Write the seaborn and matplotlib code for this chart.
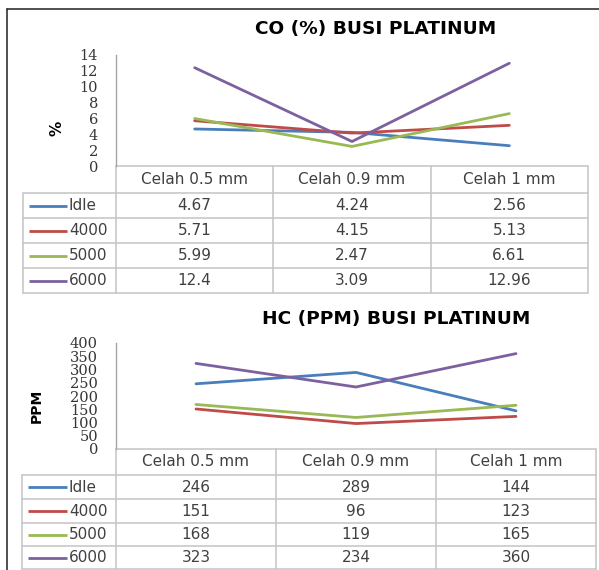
import matplotlib
matplotlib.use("Agg")
import matplotlib.pyplot as plt
import seaborn as sns
import pandas as pd

# ---------------- data ----------------
categories = ["Celah 0.5 mm", "Celah 0.9 mm", "Celah 1 mm"]
series = ["Idle", "4000", "5000", "6000"]
colors = ["#4A7EBB", "#BE4B48", "#98B954", "#7D60A0"]

co_idle = [4.67, 4.24, 2.56]
co_4000 = [5.71, 4.15, 5.13]
co_5000 = [5.99, 2.47, 6.61]
co_6000 = [12.4, 3.09, 12.96]
co_ticks = [0, 2, 4, 6, 8, 10, 12, 14]

hc_idle = [246, 289, 144]
hc_4000 = [151, 96, 123]
hc_5000 = [168, 119, 165]
hc_6000 = [323, 234, 360]
hc_ticks = [0, 50, 100, 150, 200, 250, 300, 350, 400]

co_title = "CO (%) BUSI PLATINUM"
hc_title = "HC (PPM) BUSI PLATINUM"
co_ylabel = "%"
hc_ylabel = "PPM"

# ---------------- style ----------------
sns.set_theme(style="white")
plt.rcParams['font.family'] = ['DejaVu Sans']

W, H = 599, 570
fig = plt.figure(figsize=(W / 100, H / 100), dpi=100)
fig.patch.set_facecolor("white")

ov = fig.add_axes([0, 0, 1, 1], zorder=0)
ov.set_xlim(0, W)
ov.set_ylim(H, 0)
ov.axis("off")

GRID = "#C4C4C4"
TXT = "#404040"


def px_axes(l, t, r, b):
    ax = fig.add_axes([l / W, 1 - b / H, (r - l) / W, (b - t) / H], zorder=2)
    ax.patch.set_alpha(0)
    return ax


def make_chart(vals, ticks, title, ylabel, box, title_xy, ylabel_xy, ylabel_size,
               table_left, row_edges):
    l, t, r, b = box
    ax = px_axes(l, t, r, b)
    rows = []
    for name, v in zip(series, vals):
        for i, val in enumerate(v):
            rows.append({"pos": i, "value": val, "series": name})
    df = pd.DataFrame(rows)
    sns.lineplot(data=df, x="pos", y="value", hue="series", hue_order=series,
                 palette=colors, linewidth=2.0, legend=False, ax=ax)
    ax.set_xlim(-0.5, len(categories) - 0.5)
    ax.set_ylim(ticks[0], ticks[-1])
    ax.set_xticks([])
    ax.set_yticks(ticks)
    ax.set_yticklabels([str(x) for x in ticks], family="DejaVu Serif",
                       fontsize=10.5, color="#353535")
    ax.tick_params(axis="y", length=0, pad=13)
    ax.set_xlabel("")
    ax.set_ylabel("")
    for s in ["top", "right", "bottom"]:
        ax.spines[s].set_visible(False)
    ax.spines["left"].set_color("#A6A6A6")
    ax.spines["left"].set_linewidth(1.0)

    # title and y label
    ov.text(title_xy[0], title_xy[1], title, ha="center", va="center",
            fontsize=13.3, fontweight="bold", color="black")
    ov.text(ylabel_xy[0], ylabel_xy[1], ylabel, ha="center", va="center",
            rotation=90, fontsize=ylabel_size, fontweight="bold", color="black")

    # table
    ncol = len(categories)
    cw = (r - l) / ncol
    col_edges = [l + i * cw for i in range(ncol + 1)]
    lw = 1.1
    ov.plot([l, r], [b, b], color=GRID, lw=lw)
    for x in col_edges:
        ov.plot([x, x], [b, row_edges[-1]], color=GRID, lw=lw)
    ov.plot([table_left, table_left], [row_edges[0], row_edges[-1]], color=GRID, lw=lw)
    for y in row_edges:
        ov.plot([table_left, r], [y, y], color=GRID, lw=lw)
    hy = (b + row_edges[0]) / 2
    for i, c in enumerate(categories):
        ov.text(l + (i + 0.5) * cw, hy, c, ha="center", va="center",
                fontsize=11, color=TXT)
    for k, (name, v, col) in enumerate(zip(series, vals, colors)):
        yc = (row_edges[k] + row_edges[k + 1]) / 2
        ov.plot([table_left + 6, 67], [yc, yc], color=col, lw=2.0,
                solid_capstyle="butt")
        ov.text(69, yc, name, ha="left", va="center", fontsize=11, color=TXT)
        for i, val in enumerate(v):
            ov.text(l + (i + 0.5) * cw, yc, f"{val:g}", ha="center", va="center",
                    fontsize=11, color=TXT)


make_chart([co_idle, co_4000, co_5000, co_6000], co_ticks, co_title, co_ylabel,
           (116, 55, 588, 166), (376, 29), (57, 128), 11,
           23, [193, 218, 243, 268, 293])

make_chart([hc_idle, hc_4000, hc_5000, hc_6000], hc_ticks, hc_title, hc_ylabel,
           (116, 343, 596, 449), (396, 319), (37, 406), 10,
           22, [475, 499, 523, 546, 569])

# outer frame (left and top)
ov.plot([7, 7], [9, H], color="#202020", lw=1.1)
ov.plot([7, W], [9, 9], color="#202020", lw=1.1)

fig.savefig("out.png", dpi=100)
